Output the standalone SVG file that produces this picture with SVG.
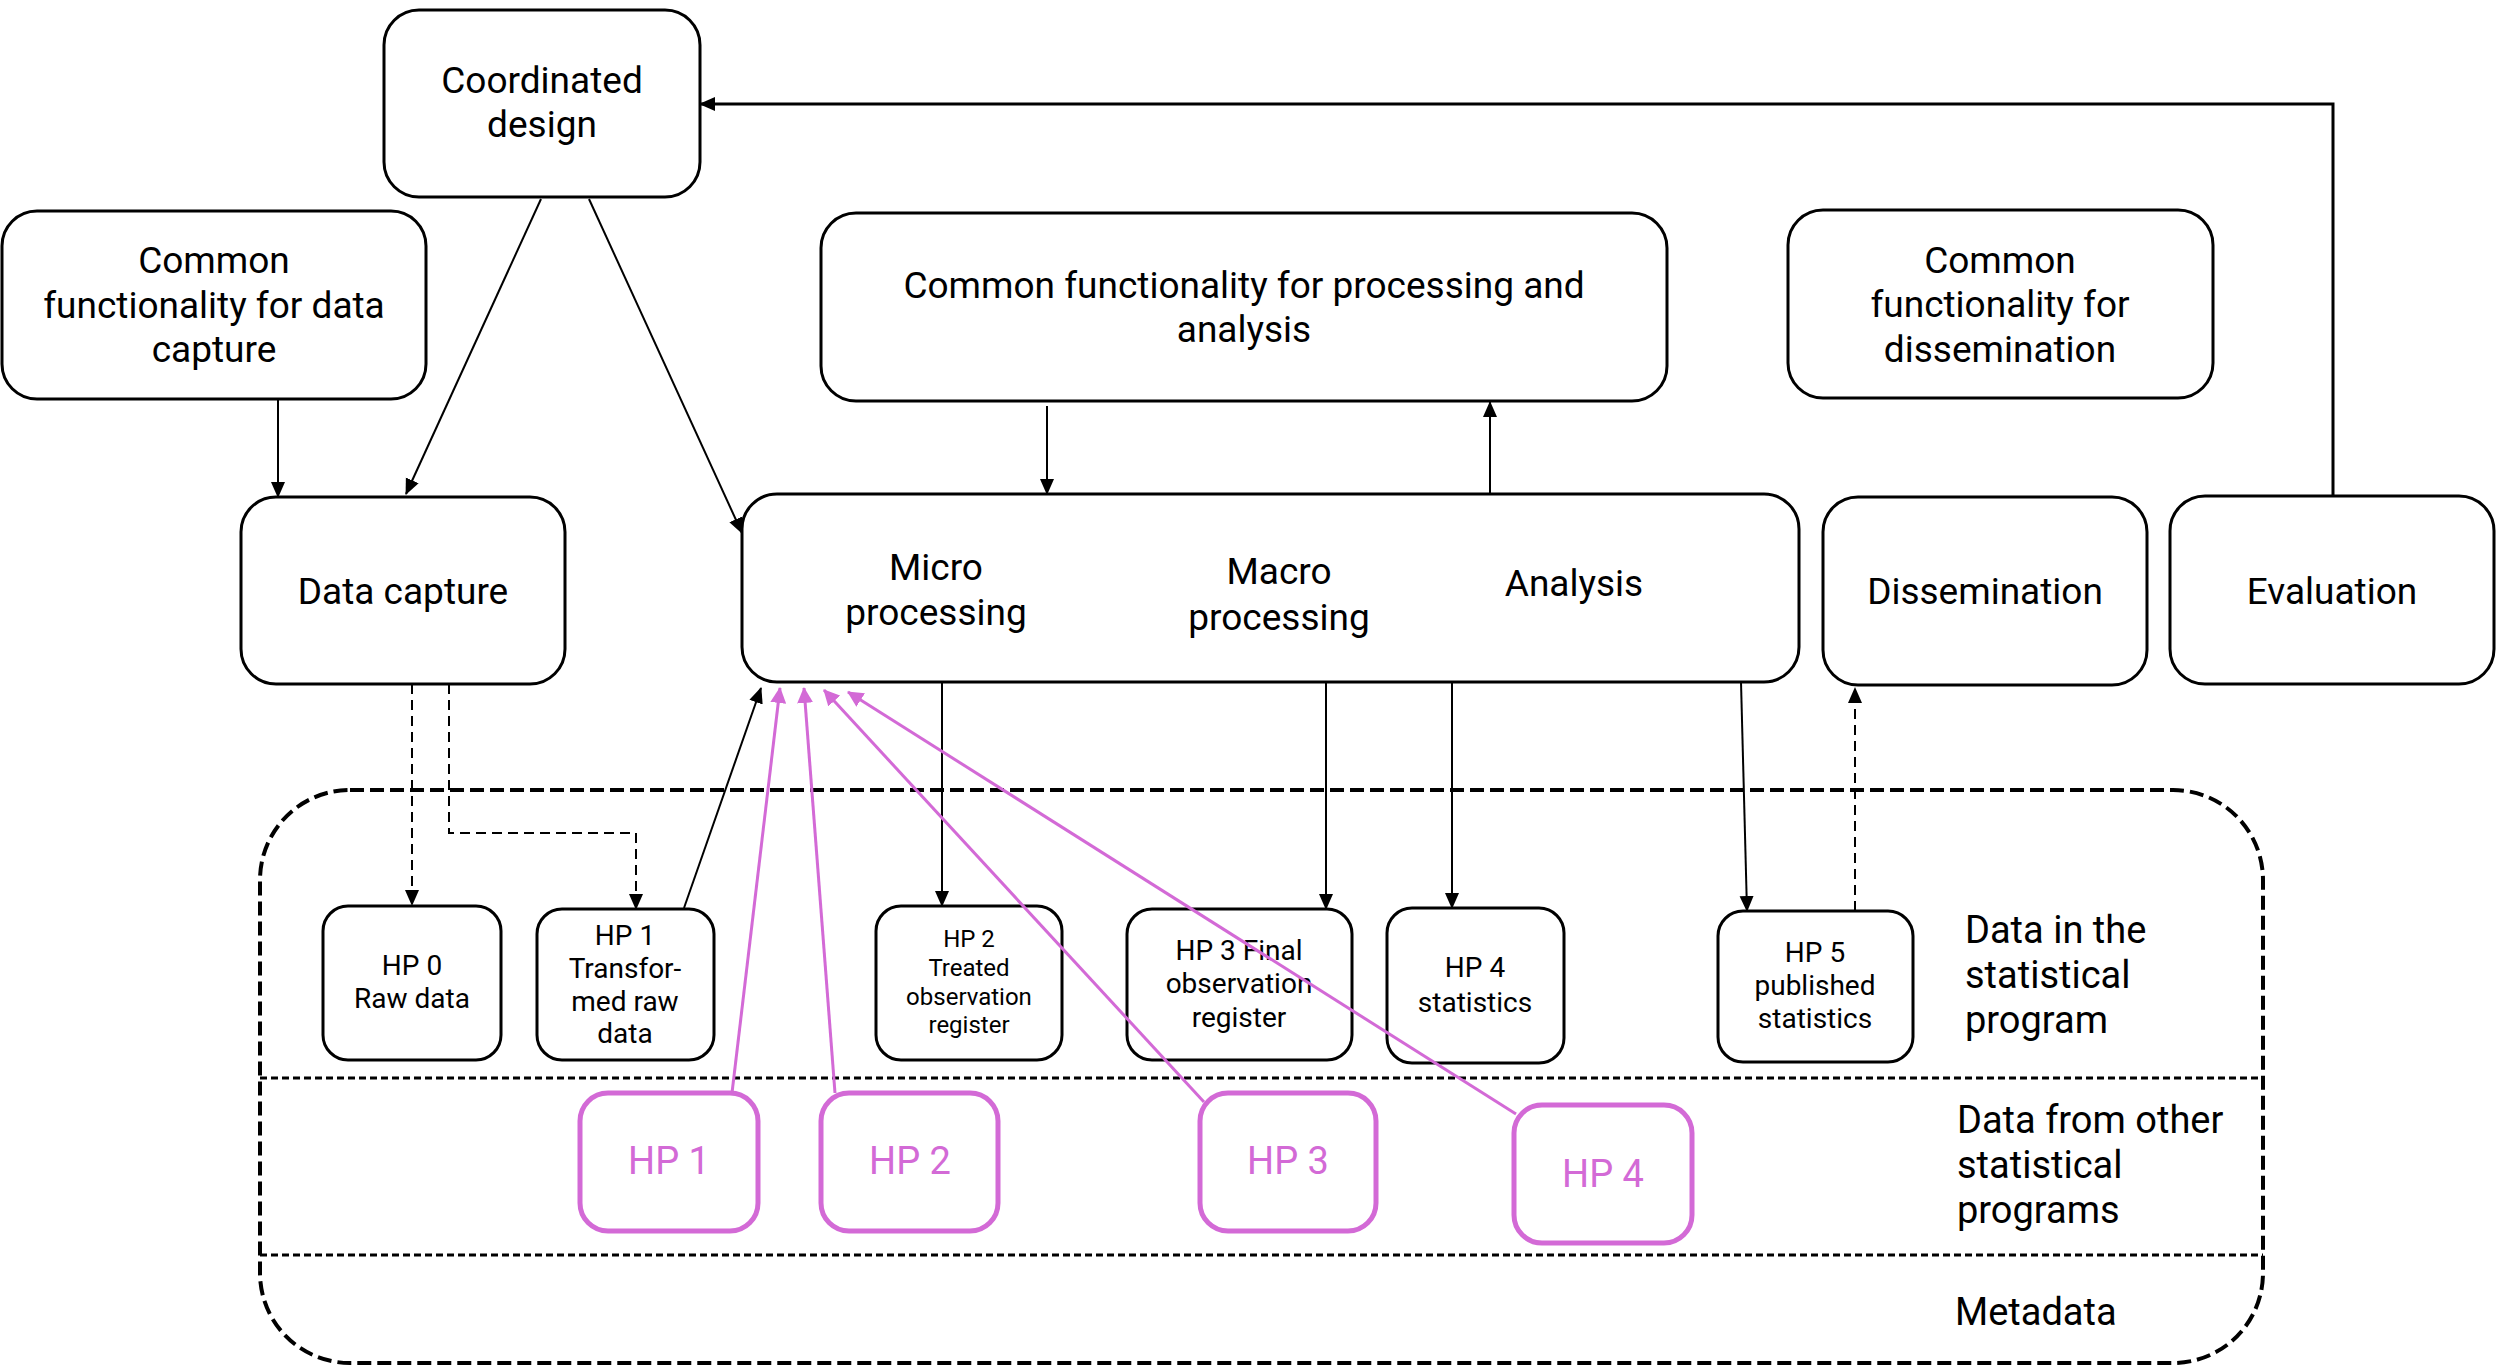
<svg xmlns="http://www.w3.org/2000/svg" width="2496" height="1369" viewBox="0 0 2496 1369">
<style>
text{font-family:Roboto,"Liberation Sans",sans-serif;fill:#000}
.box{fill:#fff;stroke:#000;stroke-width:3}
.hp{fill:#fff;stroke:#000;stroke-width:3}
.pbox{fill:#fff;stroke:#d36ad6;stroke-width:5}
.big{font-size:37px;text-anchor:middle}
.lbl{font-size:38px}
.sm{font-size:28px;text-anchor:middle}
.xs{font-size:24px;text-anchor:middle}
.ptxt{font-size:38px;text-anchor:middle;fill:#d36ad6}
.c{fill:none;stroke:#000;stroke-width:2}
.dash{fill:none;stroke:#000;stroke-width:2;stroke-dasharray:10 6}
.pc{fill:none;stroke:#d36ad6;stroke-width:3}
</style>
<defs>
<marker id="ab" markerUnits="userSpaceOnUse" markerWidth="16" markerHeight="16" viewBox="0 0 16 16" refX="15" refY="8" orient="auto"><path d="M0,1 L16,8 L0,15 z" fill="#000"/></marker>
<marker id="ap" markerUnits="userSpaceOnUse" markerWidth="16" markerHeight="16" viewBox="0 0 16 16" refX="15" refY="8" orient="auto"><path d="M0,0 L16,8 L0,16 z" fill="#d36ad6"/></marker>
</defs>

<g id="container">
<rect x="260" y="790" width="2003" height="573" rx="90" fill="none" stroke="#000" stroke-width="4" stroke-dasharray="14 6"/>
<line x1="260" y1="1078" x2="2263" y2="1078" stroke="#000" stroke-width="3" stroke-dasharray="7 4"/>
<line x1="260" y1="1255" x2="2263" y2="1255" stroke="#000" stroke-width="3" stroke-dasharray="7 4"/>
<text class="lbl" x="1965" y="943">Data in the</text>
<text class="lbl" x="1965" y="988">statistical</text>
<text class="lbl" x="1965" y="1033">program</text>
<text class="lbl" x="1957" y="1133">Data from other</text>
<text class="lbl" x="1957" y="1178">statistical</text>
<text class="lbl" x="1957" y="1223">programs</text>
<text class="lbl" x="1955" y="1325">Metadata</text>
</g>

<g id="coordinated-design">
<rect class="box" x="384" y="10" width="316" height="187" rx="35"/>
<text class="big" x="542" y="93">Coordinated</text>
<text class="big" x="542" y="137">design</text>
</g>
<g id="common-data-capture">
<rect class="box" x="2" y="211" width="424" height="188" rx="35"/>
<text class="big" x="214" y="273">Common</text>
<text class="big" x="214" y="318">functionality for data</text>
<text class="big" x="214" y="362">capture</text>
</g>
<g id="common-processing">
<rect class="box" x="821" y="213" width="846" height="188" rx="35"/>
<text class="big" x="1244" y="298">Common functionality for processing and</text>
<text class="big" x="1244" y="342">analysis</text>
</g>
<g id="common-dissemination">
<rect class="box" x="1788" y="210" width="425" height="188" rx="35"/>
<text class="big" x="2000" y="273">Common</text>
<text class="big" x="2000" y="317">functionality for</text>
<text class="big" x="2000" y="362">dissemination</text>
</g>
<g id="data-capture">
<rect class="box" x="241" y="497" width="324" height="187" rx="35"/>
<text class="big" x="403" y="604">Data capture</text>
</g>
<g id="processing">
<rect class="box" x="742" y="494" width="1057" height="188" rx="35"/>
<text class="big" x="936" y="580">Micro</text>
<text class="big" x="936" y="625">processing</text>
<text class="big" x="1279" y="584">Macro</text>
<text class="big" x="1279" y="630">processing</text>
<text class="big" x="1574" y="596">Analysis</text>
</g>
<g id="dissemination">
<rect class="box" x="1823" y="497" width="324" height="188" rx="35"/>
<text class="big" x="1985" y="604">Dissemination</text>
</g>
<g id="evaluation">
<rect class="box" x="2170" y="496" width="324" height="188" rx="35"/>
<text class="big" x="2332" y="604">Evaluation</text>
</g>

<g id="hp0">
<rect class="hp" x="323" y="906" width="178" height="154" rx="25"/>
<text class="sm" x="412" y="975">HP 0</text>
<text class="sm" x="412" y="1008">Raw data</text>
</g>
<g id="hp1">
<rect class="hp" x="537" y="909" width="177" height="151" rx="25"/>
<text class="sm" x="625" y="945">HP 1</text>
<text class="sm" x="625" y="978">Transfor-</text>
<text class="sm" x="625" y="1011">med raw</text>
<text class="sm" x="625" y="1043">data</text>
</g>
<g id="hp2">
<rect class="hp" x="876" y="906" width="186" height="154" rx="25"/>
<text class="xs" x="969" y="947">HP 2</text>
<text class="xs" x="969" y="976">Treated</text>
<text class="xs" x="969" y="1005">observation</text>
<text class="xs" x="969" y="1033">register</text>
</g>
<g id="hp3">
<rect class="hp" x="1127" y="909" width="225" height="151" rx="25"/>
<text class="sm" x="1239" y="960">HP 3 Final</text>
<text class="sm" x="1239" y="993">observation</text>
<text class="sm" x="1239" y="1027">register</text>
</g>
<g id="hp4">
<rect class="hp" x="1387" y="908" width="177" height="155" rx="25"/>
<text class="sm" x="1475" y="977">HP 4</text>
<text class="sm" x="1475" y="1012">statistics</text>
</g>
<g id="hp5">
<rect class="hp" x="1718" y="911" width="195" height="151" rx="25"/>
<text class="sm" x="1815" y="962">HP 5</text>
<text class="sm" x="1815" y="995">published</text>
<text class="sm" x="1815" y="1028">statistics</text>
</g>

<g id="ext-hp1">
<rect class="pbox" x="580" y="1093" width="178" height="138" rx="28"/>
<text class="ptxt" x="669" y="1174">HP 1</text>
</g>
<g id="ext-hp2">
<rect class="pbox" x="821" y="1093" width="177" height="138" rx="28"/>
<text class="ptxt" x="910" y="1174">HP 2</text>
</g>
<g id="ext-hp3">
<rect class="pbox" x="1200" y="1093" width="176" height="138" rx="28"/>
<text class="ptxt" x="1288" y="1174">HP 3</text>
</g>
<g id="ext-hp4">
<rect class="pbox" x="1514" y="1105" width="178" height="138" rx="28"/>
<text class="ptxt" x="1603" y="1187">HP 4</text>
</g>

<g id="connectors">
<path d="M2333,496 V104 H700" fill="none" stroke="#000" stroke-width="3" marker-end="url(#ab)"/>
<path class="c" d="M541,199 L406,494" marker-end="url(#ab)"/>
<path class="c" d="M589,199 L742,533" marker-end="url(#ab)"/>
<path class="c" d="M278,400 V497" marker-end="url(#ab)"/>
<path class="c" d="M1047,406 V494" marker-end="url(#ab)"/>
<path class="c" d="M1490,494 V402" marker-end="url(#ab)"/>
<path class="dash" d="M412,684 V905" marker-end="url(#ab)"/>
<path class="dash" d="M449,684 V833 H636 V909" marker-end="url(#ab)"/>
<path class="c" d="M684,908 L761,688" marker-end="url(#ab)"/>
<path class="c" d="M942,682 V906" marker-end="url(#ab)"/>
<path class="c" d="M1326,682 V909" marker-end="url(#ab)"/>
<path class="c" d="M1452,682 V908" marker-end="url(#ab)"/>
<path class="c" d="M1741,682 L1747,911" marker-end="url(#ab)"/>
<path class="dash" d="M1855,911 V688" marker-end="url(#ab)"/>
<path class="pc" d="M732,1093 L780,688" marker-end="url(#ap)"/>
<path class="pc" d="M835,1093 L804,688" marker-end="url(#ap)"/>
<path class="pc" d="M1204,1102 L824,690" marker-end="url(#ap)"/>
<path class="pc" d="M1516,1114 L848,692" marker-end="url(#ap)"/>
</g>
</svg>
